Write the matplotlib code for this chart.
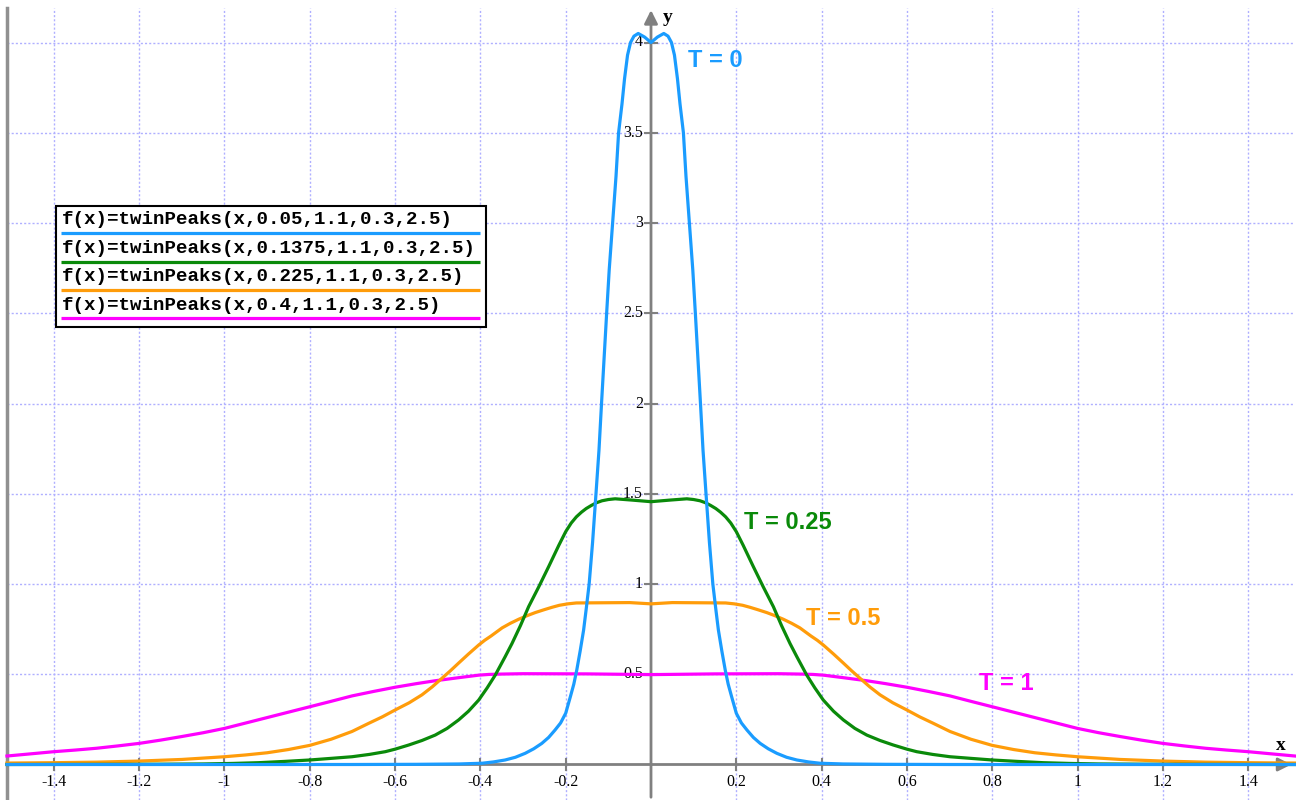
import matplotlib
matplotlib.use("Agg")
import matplotlib.pyplot as plt
from matplotlib.patches import Rectangle

# curves (right half; the left half is the mirror image)
blue_x = [0, 0.015, 0.03, 0.04, 0.048, 0.055, 0.062, 0.068, 0.076, 0.082, 0.09, 0.098, 0.104,
          0.11, 0.116, 0.122, 0.129, 0.137, 0.145, 0.152, 0.158, 0.166, 0.174, 0.181, 0.189,
          0.2, 0.212, 0.225, 0.24, 0.256, 0.275, 0.295, 0.318, 0.342, 0.37, 0.396, 0.45, 0.55,
          0.7, 1.51]
blue_y = [4.0, 4.03, 4.05, 4.035, 4.0, 3.93, 3.8, 3.66, 3.5, 3.26, 3.0, 2.74, 2.5,
          2.25, 2.0, 1.74, 1.5, 1.23, 1.0, 0.86, 0.745, 0.63, 0.524, 0.445, 0.376,
          0.284, 0.23, 0.191, 0.15, 0.117, 0.087, 0.062, 0.04, 0.025, 0.014, 0.007, 0.003, 0.001,
          0.0, 0.0]

green_x = [0, 0.045, 0.084, 0.1, 0.115, 0.128, 0.14, 0.152, 0.163, 0.175, 0.187, 0.2, 0.216,
           0.24, 0.263, 0.287, 0.306, 0.326, 0.342, 0.365, 0.384, 0.404, 0.428, 0.451, 0.478,
           0.506, 0.537, 0.568, 0.6, 0.623, 0.66, 0.701, 0.75, 0.8, 0.86, 0.92, 0.98, 1.05,
           1.2, 1.51]
green_y = [1.456, 1.465, 1.472, 1.468, 1.461, 1.45, 1.435, 1.418, 1.398, 1.372, 1.338, 1.29, 1.215,
           1.096, 0.985, 0.874, 0.77, 0.67, 0.597, 0.496, 0.425, 0.357, 0.295, 0.247, 0.2,
           0.163, 0.133, 0.108, 0.085, 0.071, 0.056, 0.043, 0.034, 0.025, 0.017, 0.01, 0.006, 0.003,
           0.001, 0.0]

orange_x = [0, 0.05, 0.115, 0.175, 0.195, 0.215, 0.232, 0.25, 0.271, 0.29, 0.31, 0.33, 0.349,
            0.36, 0.375, 0.39, 0.404, 0.428, 0.451, 0.47, 0.49, 0.513, 0.537, 0.567, 0.6, 0.63,
            0.662, 0.701, 0.75, 0.8, 0.85, 0.9, 0.95, 1.0, 1.1, 1.2, 1.3, 1.4, 1.51]
orange_y = [0.89, 0.897, 0.896, 0.895, 0.89, 0.882, 0.871, 0.858, 0.842, 0.825, 0.805, 0.782, 0.757,
            0.738, 0.712, 0.688, 0.662, 0.612, 0.562, 0.52, 0.478, 0.43, 0.386, 0.342, 0.302, 0.264,
            0.228, 0.183, 0.14, 0.106, 0.083, 0.065, 0.053, 0.043, 0.028, 0.019, 0.013, 0.01, 0.008]

magenta_x = [0, 0.15, 0.3, 0.35, 0.38, 0.404, 0.451, 0.506, 0.55, 0.6, 0.65, 0.701, 0.75, 0.8,
             0.85, 0.9, 0.95, 1.0, 1.05, 1.1, 1.15, 1.2, 1.25, 1.3, 1.35, 1.4, 1.45, 1.51]
magenta_y = [0.498, 0.502, 0.503, 0.501, 0.499, 0.495, 0.481, 0.464, 0.448, 0.428, 0.405, 0.38, 0.35,
             0.32, 0.29, 0.26, 0.23, 0.2, 0.176, 0.155, 0.135, 0.117, 0.103, 0.09, 0.08, 0.071,
             0.06, 0.047]

legend_labels = ["f(x)=twinPeaks(x,0.05,1.1,0.3,2.5)",
                 "f(x)=twinPeaks(x,0.1375,1.1,0.3,2.5)",
                 "f(x)=twinPeaks(x,0.225,1.1,0.3,2.5)",
                 "f(x)=twinPeaks(x,0.4,1.1,0.3,2.5)"]
curve_names = ["T = 0", "T = 0.25", "T = 0.5", "T = 1"]
name_pos = [(0.087, 3.90), (0.218, 1.343), (0.363, 0.81), (0.769, 0.45)]

x_ticks = [-1.4, -1.2, -1, -0.8, -0.6, -0.4, -0.2, 0.2, 0.4, 0.6, 0.8, 1, 1.2, 1.4]
y_ticks = [0.5, 1, 1.5, 2, 2.5, 3, 3.5, 4]

colors = ["#1a9cff", "#0a8a0a", "#ff9c0a", "#ff00ff"]


def full(xs, ys):
    # both halves of a symmetric curve
    fx = [-v for v in xs[:0:-1]] + list(xs)
    fy = list(ys[:0:-1]) + list(ys)
    return fx, fy


fig = plt.figure(figsize=(12.96, 8), dpi=100)
ax = fig.add_axes([0, 0, 1, 1])
xl, xr = (0 - 651) / 426.5, (1296 - 651) / 426.5
yb, yt = (764.5 - 800) / 180.5, 764.5 / 180.5
ax.set_xlim(xl, xr)
ax.set_ylim(yb, yt)
ax.axis("off")

left_x = -1.51
top_y = 4.19
grid_kw = dict(color="#b0b0ff", lw=1, ls=(0, (1.5, 1.5)), zorder=1)
for t in x_ticks:
    ax.plot([t, t], [yb, top_y], **grid_kw)
for t in y_ticks:
    ax.plot([left_x, 1.505], [t, t], **grid_kw)

# left border line
ax.plot([left_x, left_x], [yb, top_y], color="#909090", lw=2.5, zorder=2)

# axes with arrows
ax.annotate("", xy=(1.508, 0), xytext=(left_x, 0),
            arrowprops=dict(arrowstyle="-|>", color="#808080", lw=2, mutation_scale=20), zorder=2)
ax.annotate("", xy=(0, 4.195), xytext=(0, yb),
            arrowprops=dict(arrowstyle="-|>", color="#808080", lw=2, mutation_scale=20), zorder=2)

for t in x_ticks:
    ax.plot([t, t], [-0.03, 0.03], color="#808080", lw=1.5, zorder=2)
    ax.text(t, -0.095, f"{t:g}", ha="center", va="center", fontsize=11.5,
            family="Liberation Serif")
for t in y_ticks:
    ax.plot([-0.014, 0.014], [t, t], color="#808080", lw=1.5, zorder=2)
    ax.text(-0.019, t, f"{t:g}", ha="right", va="center", fontsize=11.5,
            family="Liberation Serif")

ax.text((1281 - 651) / 426.5, (764.5 - 745) / 180.5, "x", ha="center", va="center",
        fontsize=14, fontweight="bold", family="Liberation Serif")
ax.text((668 - 651) / 426.5, (764.5 - 17) / 180.5, "y", ha="center", va="center",
        fontsize=14, fontweight="bold", family="Liberation Serif")

curves = [(blue_x, blue_y), (green_x, green_y), (orange_x, orange_y), (magenta_x, magenta_y)]
for (cx, cy), c in zip(curves[::-1], colors[::-1]):
    fx, fy = full(cx, cy)
    ax.plot(fx, fy, color=c, lw=2.3, zorder=4, solid_joinstyle="round")

for name, (px, py), c in zip(curve_names, name_pos, colors):
    ax.text(px, py, name, color=c, fontsize=17, fontweight="bold", ha="left", va="center",
            family="Liberation Sans", zorder=5)

# legend box, in pixel coordinates
lg = fig.add_axes([0, 0, 1, 1])
lg.set_xlim(0, 1296)
lg.set_ylim(800, 0)
lg.axis("off")
lg.patch.set_alpha(0)
lg.add_patch(Rectangle((56, 206), 430, 121, facecolor="white", edgecolor="black", lw=1.5, zorder=6))
row_text = [220, 248.5, 276.7, 305]
row_line = [233.3, 261.7, 290, 317.7]
for lab, ty, ly, c in zip(legend_labels, row_text, row_line, colors):
    lg.text(61.5, ty, lab, fontsize=13.8, fontweight="bold", family="Liberation Mono",
            ha="left", va="center", zorder=7)
    lg.plot([61, 480], [ly, ly], color=c, lw=2.3, zorder=7, solid_capstyle="butt")

fig.savefig("out.png", dpi=100)
